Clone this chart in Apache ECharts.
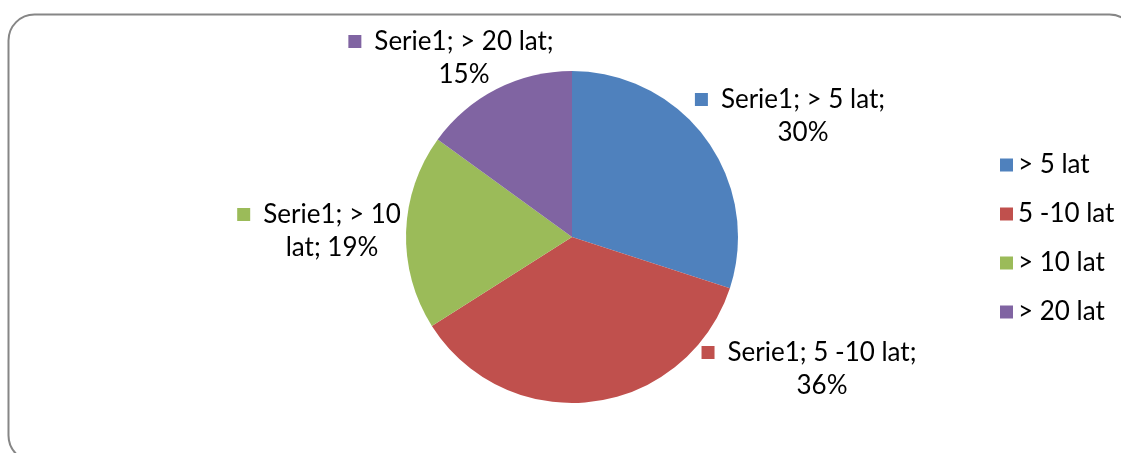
<!DOCTYPE html>
<html>
<head>
<meta charset="utf-8">
<script src="https://cdn.jsdelivr.net/npm/echarts@6/dist/echarts.min.js"></script>
<style>
  html, body { margin: 0; padding: 0; background: #fff; }
  #chart { width: 1121px; height: 453px; }
</style>
</head>
<body>
<div id="chart"></div>
<script>
// dane wykresu
const seriesName = "Serie1";
const categories = ["> 5 lat", "5 -10 lat", "> 10 lat", "> 20 lat"];
const percents = [30, 36, 19, 15];
const colors = ["#4F81BD", "#C0504D", "#9BBB59", "#8064A2"];

// gdzie stoja etykiety (srodek bloku)
const labelSpots = [[790, 116], [809, 369], [319, 231], [451, 58]];
// zlamanie linii jak w Excelu
const labelBreak = [
  (c) => [seriesName + "; " + c + ";", ""],
  (c) => [seriesName + "; " + c + ";", ""],
  (c) => [seriesName + "; > 10", "lat; "],
  (c) => [seriesName + "; " + c + ";", ""],
];

const chart = echarts.init(document.getElementById("chart"));
const font = "Lato, 'Open Sans', sans-serif";
const fs = 26;

function richFor(color) {
  return {
    sq: { width: 13, height: 13, padding: 0, backgroundColor: color },
    t: { fontSize: fs, color: "#000", fontFamily: font, lineHeight: 33, padding: [0, 0, 0, 13] },
    p: { fontSize: fs, color: "#000", fontFamily: font, lineHeight: 33, padding: [0, 0, 0, 26] },
  };
}

const pieData = categories.map((c, i) => ({
  name: c,
  value: percents[i],
  itemStyle: { color: colors[i] },
  // kolor kwadracika taki jak wycinek
  label: { rich: richFor(colors[i]) },
}));

const option = {
  animation: false,
  textStyle: { fontFamily: font },
  graphic: [
    {
      type: "rect",
      shape: { x: 8.5, y: 14.5, width: 1127, height: 447, r: 26 },
      style: { fill: "none", stroke: "#868686", lineWidth: 2 },
      silent: true,
    },
  ],
  legend: {
    orient: "vertical",
    left: 995,
    top: 147,
    itemWidth: 13,
    itemHeight: 13,
    itemGap: 23,
    icon: "rect",
    textStyle: { fontSize: fs, lineHeight: 26, color: "#000", fontFamily: font },
    data: categories,
  },
  series: [
    {
      type: "pie",
      center: [572, 237],
      radius: 166,
      startAngle: 90,
      clockwise: true,
      data: pieData,
      labelLine: { show: false },
      label: {
        show: true,
        position: "outside",
        align: "center",
        fontSize: fs,
        fontFamily: font,
        color: "#000",
        formatter: function (p) {
          const lines = labelBreak[p.dataIndex](p.name);
          return "{sq|}{t|" + lines[0] + "}\n{p|" + lines[1] + p.value + "%}";
        },
      },
      labelLayout: function (params) {
        const s = labelSpots[params.dataIndex];
        return { x: s[0], y: s[1], align: "center", verticalAlign: "middle" };
      },
    },
  ],
};

chart.setOption(option);
</script>
</body>
</html>
